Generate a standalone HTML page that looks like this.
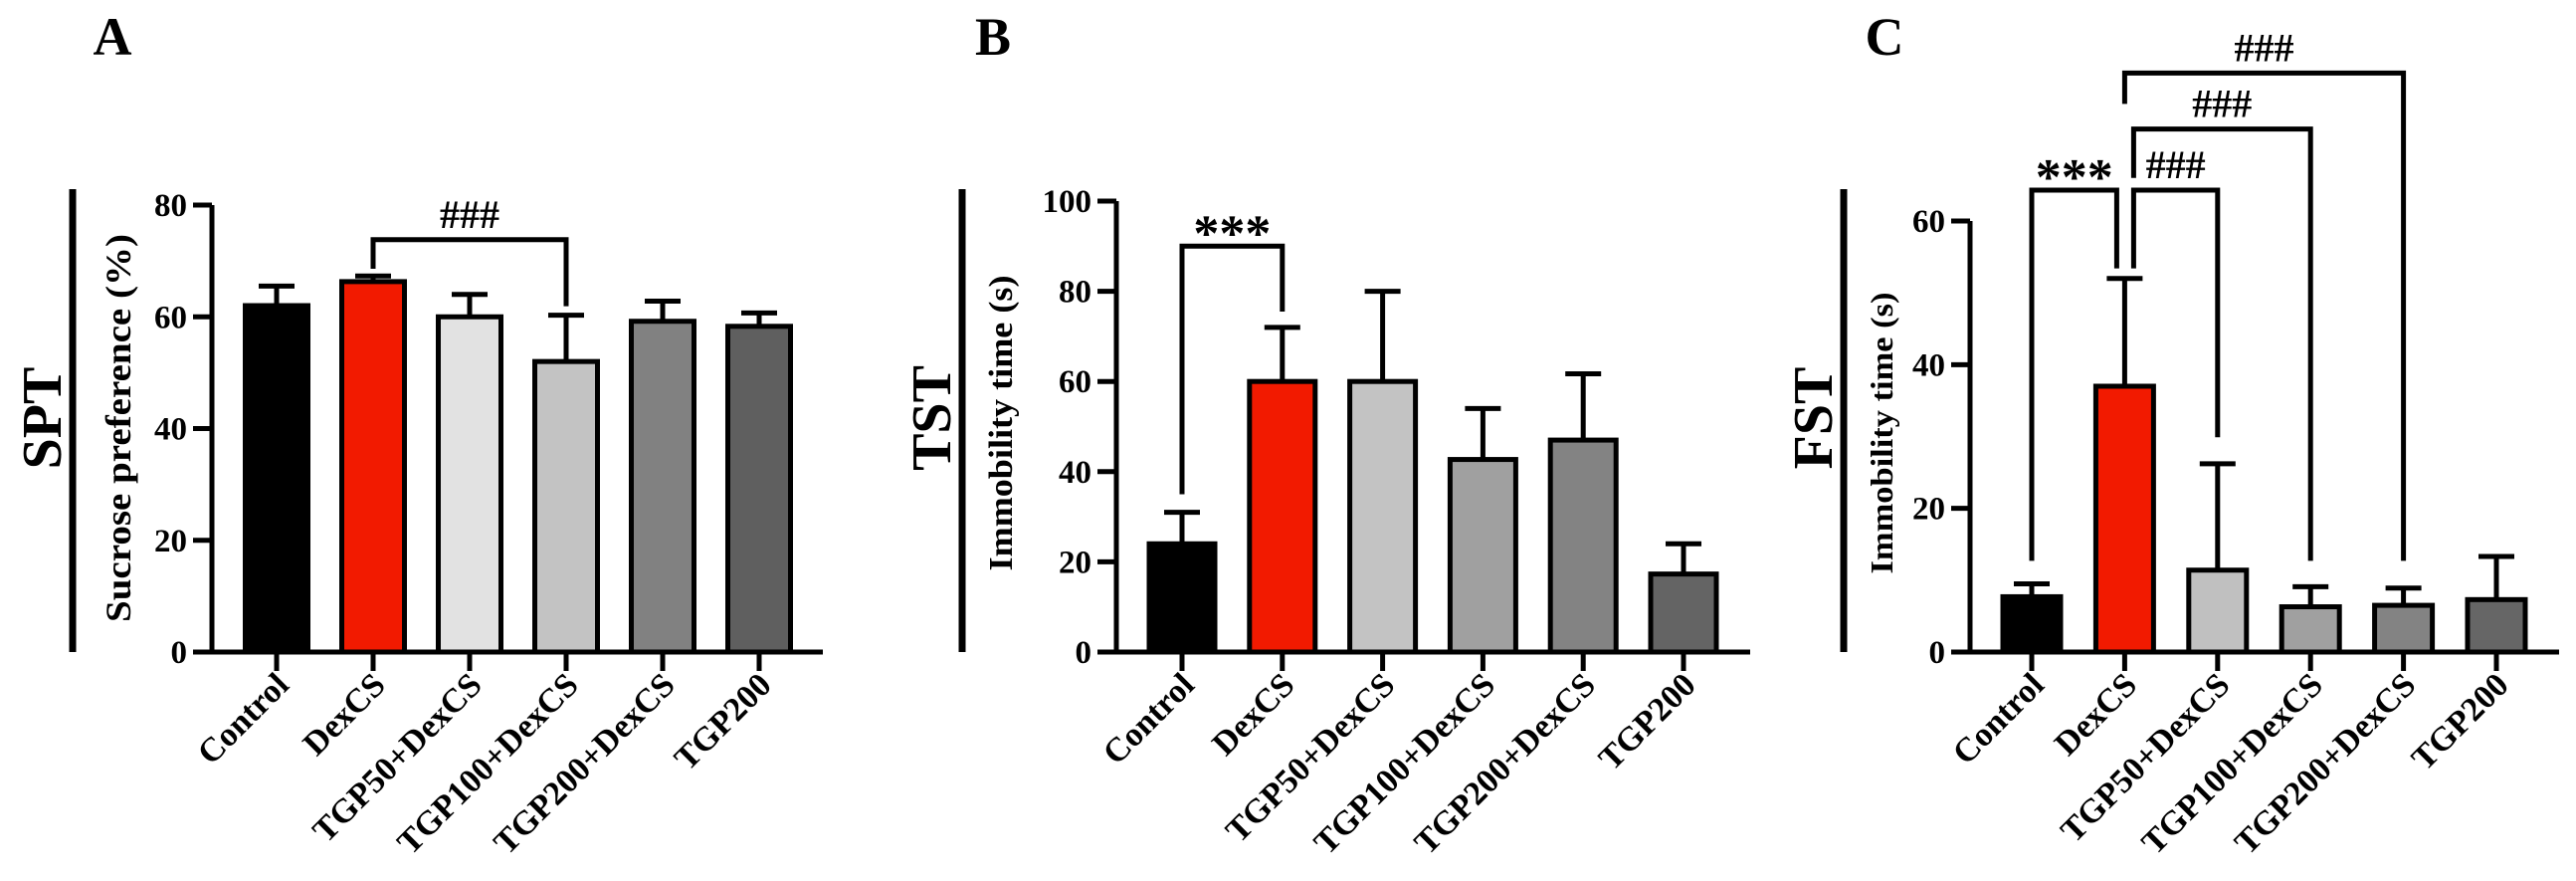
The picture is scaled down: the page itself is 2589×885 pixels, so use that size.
<!DOCTYPE html>
<html><head><meta charset="utf-8"><style>
html,body{margin:0;padding:0;background:#fff}
svg{display:block}
text{font-family:"Liberation Serif",serif;font-weight:bold;fill:#000}
</style></head><body>
<svg id="fig" width="2589" height="885" viewBox="0 0 2589 885" xmlns="http://www.w3.org/2000/svg"></svg>
<script>
const categories = ["Control","DexCS","TGP50+DexCS","TGP100+DexCS","TGP200+DexCS","TGP200"];
const sptMeans = [62, 66.3, 60, 52, 59.2, 58.3];
const sptErrs = [3.5, 1.0, 4.0, 8.3, 3.6, 2.4];
const tstMeans = [24, 60, 60, 42.7, 47, 17.3];
const tstErrs = [7, 12, 20, 11.3, 14.7, 6.7];
const fstMeans = [7.7, 37, 11.4, 6.3, 6.5, 7.3];
const fstErrs = [1.8, 15, 14.8, 2.8, 2.4, 6];
const sptTicks = [0,20,40,60,80];
const tstTicks = [0,20,40,60,80,100];
const fstTicks = [0,20,40,60];
const sptColors = ["#000000","#f21a00","#e2e2e2","#c3c3c3","#818181","#5f5f5f"];
const tstColors = ["#000000","#f21a00","#c3c3c3","#a0a0a0","#838383","#646464"];
const fstColors = ["#000000","#f21a00","#c0c0c0","#a0a0a0","#838383","#666666"];
// brackets: [fromIdx, toIdx, barValue, leftEndValue, rightEndValue, label, leftOffset, rightOffset]
const sptBrackets = [[1,3,73.8,68.6,61.9,"###",0,0]];
const tstBrackets = [[0,1,90,35,75.5,"***",0,0]];
const fstBrackets = [[0,1,64.3,12.7,53.4,"***",0,-8],[1,2,64.3,53.4,29.9,"###",9,0],[1,3,72.8,66,12.7,"###",9,0],[1,4,80.6,76.3,12.7,"###",0,0]];

const NS="http://www.w3.org/2000/svg";
const svg=document.getElementById('fig');
function mk(tag,attrs,parent){const e=document.createElementNS(NS,tag);for(const k in attrs)e.setAttribute(k,attrs[k]);(parent||svg).appendChild(e);return e;}

function panel(cfg){
  const g=mk('g',{});
  
  
  const y0=655, yTop=cfg.yTop, vmax=cfg.ticks[cfg.ticks.length-1];
  const Y=v=>y0-(v/vmax)*(y0-yTop);
  const X=i=>cfg.x0+i*cfg.step;
  const L=mk('text',{x:cfg.letterX,y:55,'font-size':54,'text-anchor':'middle'},g);L.textContent=cfg.letter;
  
  
  const sl=mk('line',{x1:cfg.sideX,x2:cfg.sideX,y1:190,y2:655,stroke:'#000','stroke-width':7},g);
  
  
  const tn=mk('text',{x:0,y:0,'font-size':56,'text-anchor':'middle',transform:`translate(${cfg.sideX-12},${420}) rotate(-90)`},g);tn.textContent=cfg.test;
  
  
  const yt=mk('text',{x:0,y:0,'font-size':cfg.titleSize,'text-anchor':'middle',textLength:cfg.titleLen,lengthAdjust:'spacingAndGlyphs',transform:`translate(${cfg.titleX},${cfg.titleY}) rotate(-90)`},g);yt.textContent=cfg.ytitle;
  
  
  cfg.means.forEach((m,i)=>{
    const cx=X(i), top=Y(m+cfg.errs[i]);
    const e=mk('path',{d:`M${cx},${Y(m)} V${top} M${cx-18},${top} H${cx+18}`,stroke:'#000','stroke-width':5,fill:'none'},g);
    
    
    const r=mk('rect',{x:cx-cfg.bw/2,y:Y(m),width:cfg.bw,height:y0-Y(m),fill:cfg.colors[i],stroke:'#000','stroke-width':5},g);
    
    
  });
  const ya=mk('line',{x1:cfg.axisX,x2:cfg.axisX,y1:yTop,y2:y0+2.5,stroke:'#000','stroke-width':5},g);
  
  
  const xa=mk('line',{x1:cfg.axisX-2.5,x2:cfg.xEnd,y1:y0,y2:y0,stroke:'#000','stroke-width':5},g);
  
  
  cfg.ticks.forEach(t=>{
    const tl=mk('line',{x1:cfg.axisX-19,x2:cfg.axisX,y1:Y(t),y2:Y(t),stroke:'#000','stroke-width':5},g);
    
    
    const tt=mk('text',{x:cfg.axisX-25,y:Y(t)+11,'font-size':33,'text-anchor':'end'},g);tt.textContent=t;
    
    
  });
  categories.forEach((c,i)=>{
    const tk=mk('line',{x1:X(i),x2:X(i),y1:y0,y2:y0+19,stroke:'#000','stroke-width':5},g);
    
    
    const t=mk('text',{x:0,y:0,'font-size':34,'text-anchor':'end',transform:`translate(${X(i)+14},${690}) rotate(-45)`},g);t.textContent=c;
    
    
  });
  cfg.brackets.forEach(b=>{
    const xl=X(b[0])+b[6], xr=X(b[1])+b[7], yb=Y(b[2]);
    const p=mk('path',{d:`M${xl},${Y(b[3])} V${yb} H${xr} V${Y(b[4])}`,stroke:'#000','stroke-width':5,fill:'none'},g);
    
    
    const isStar=b[5]==='***';
    const t=mk('text',{x:(xl+xr)/2,y:yb-(isStar?-4:12),'font-size':isStar?52:36,'text-anchor':'middle'},g);t.textContent=b[5];
    if(!isStar){t.setAttribute('font-weight','normal');t.setAttribute('font-family','"Liberation Sans",sans-serif');t.setAttribute('font-size','40');}
    
    
  });
}

panel({id:'spt',letter:'A',letterX:113,sideX:73,test:'SPT',ytitle:'Sucrose preference (%)',titleX:131,titleY:430,titleLen:390,titleSize:36,
  axisX:213,yTop:206,xEnd:827,x0:278,step:97,bw:63,ticks:sptTicks,means:sptMeans,errs:sptErrs,colors:sptColors,brackets:sptBrackets});
panel({id:'tst',letter:'B',letterX:998,sideX:967,test:'TST',ytitle:'Immobility time (s)',titleX:1017,titleY:425,titleLen:297,titleSize:34,
  axisX:1122,yTop:202,xEnd:1759,x0:1188,step:100.8,bw:66,ticks:tstTicks,means:tstMeans,errs:tstErrs,colors:tstColors,brackets:tstBrackets});
panel({id:'fst',letter:'C',letterX:1894,sideX:1853,test:'FST',ytitle:'Immobility time (s)',titleX:1902,titleY:435,titleLen:283,titleSize:32,
  axisX:1980,yTop:222,xEnd:2572,x0:2042,step:93.4,bw:58,ticks:fstTicks,means:fstMeans,errs:fstErrs,colors:fstColors,brackets:fstBrackets});
</script>
</body></html>
